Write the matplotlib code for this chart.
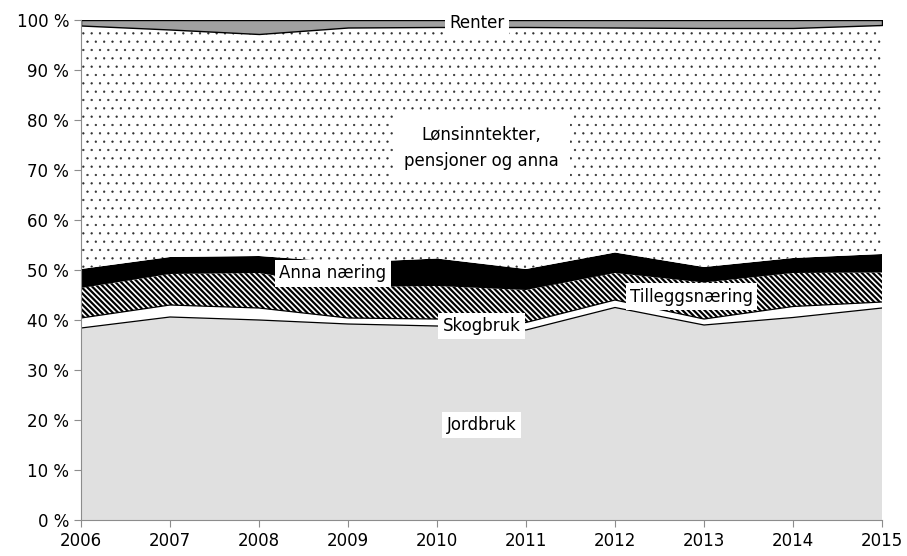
import numpy as np
import matplotlib.pyplot as plt

plt.rcParams['font.family'] = ['DejaVu Sans']

# Andel av inntekt (%), lest av figuren
years = [2006, 2007, 2008, 2009, 2010, 2011, 2012, 2013, 2014, 2015]
jordbruk = [38.4, 40.6, 40.0, 39.2, 38.8, 38.0, 42.5, 39.0, 40.5, 42.4]
skogbruk = [2.0, 2.4, 2.4, 1.2, 1.4, 1.5, 1.5, 1.2, 2.2, 1.2]
tillegg = [6.0, 6.2, 7.0, 6.2, 6.6, 6.5, 5.4, 7.3, 6.7, 5.9]
anna = [3.8, 3.4, 3.4, 4.9, 5.5, 4.2, 4.1, 3.1, 3.0, 3.7]
lonn = [48.7, 45.5, 44.4, 47.0, 46.3, 48.4, 45.0, 47.8, 46.0, 45.8]
renter = [1.1, 1.9, 2.8, 1.5, 1.4, 1.4, 1.5, 1.6, 1.6, 1.0]

x = np.array(years)
stack = np.cumsum(np.vstack([jordbruk, skogbruk, tillegg, anna, lonn, renter]), axis=0)
base = np.zeros(len(years))

fig = plt.figure(figsize=(9.07, 5.56), dpi=100)
ax = fig.add_axes([81 / 907, 36 / 556, 801 / 907, 500 / 556])

# Jordbruk
ax.fill_between(x, base, stack[0], facecolor='#e0e0e0', linewidth=0)
ax.plot(x, stack[0], color='black', lw=0.9)
# Skogbruk
ax.fill_between(x, stack[0], stack[1], facecolor='white', linewidth=0)
# Tilleggsnæring
with plt.rc_context({'hatch.linewidth': 1.6}):
    ax.fill_between(x, stack[1], stack[2], facecolor='white', edgecolor='black',
                    hatch='\\\\\\\\\\\\', linewidth=0)
ax.plot(x, stack[1], color='black', lw=0.9)
# Anna næring
ax.fill_between(x, stack[2], stack[3], facecolor='black', linewidth=0)
# Lønsinntekter
with plt.rc_context({'hatch.linewidth': 0.4}):
    ax.fill_between(x, stack[3], stack[4], facecolor='white', edgecolor='#303030',
                    hatch='..', linewidth=0)
# Renter
ax.fill_between(x, stack[4], stack[5], facecolor='#a0a0a0', edgecolor='black',
                linewidth=1.0)

ax.set_xlim(2006, 2015)
ax.set_ylim(0, 100)
ax.set_xticks(years)
ax.set_yticks(range(0, 101, 10))
ax.set_yticklabels([f'{v} %' for v in range(0, 101, 10)])

for s in ['top', 'right']:
    ax.spines[s].set_visible(False)
for s in ['left', 'bottom']:
    ax.spines[s].set_color('#8c8c8c')
ax.tick_params(axis='both', colors='#8c8c8c', labelcolor='black', labelsize=12,
               length=5, direction='out')
ax.tick_params(axis='x', pad=4)

box = dict(facecolor='white', edgecolor='none', pad=3)
ax.text(2010.45, 99.4, 'Renter', ha='center', va='center', fontsize=12, bbox=box)
ax.text(2010.5, 74.4, 'Lønsinntekter,\npensjoner og anna', ha='center', va='center',
        fontsize=12, bbox=dict(facecolor='white', edgecolor='none', pad=8),
        linespacing=1.5)
ax.text(2008.83, 49.3, 'Anna næring', ha='center', va='center', fontsize=12, bbox=box)
ax.text(2012.86, 44.7, 'Tilleggsnæring', ha='center', va='center', fontsize=12, bbox=box)
ax.text(2010.5, 38.8, 'Skogbruk', ha='center', va='center', fontsize=12, bbox=box)
ax.text(2010.5, 19.0, 'Jordbruk', ha='center', va='center', fontsize=12, bbox=box)

fig.savefig('out.png', dpi=100)
